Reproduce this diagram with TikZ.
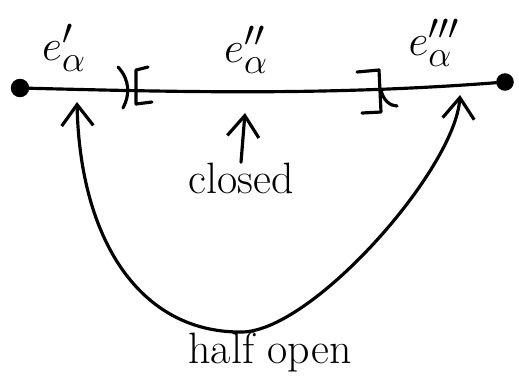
\documentclass[tikz,border=0pt]{standalone}
\usepackage{amsmath,amssymb}
\usepackage{tikz}
\usetikzlibrary{arrows.meta, positioning}

\begin{document}
\begin{tikzpicture}[
    x=0.02cm, y=-0.02cm,
    stroke/.style={draw, line width=1.8pt, line cap=round, line join=round},
    enddot/.style={circle, fill=black, inner sep=0pt, minimum size=10.5pt},
    elabel/.style={inner sep=0pt, font=\fontsize{31}{31}\selectfont},
    wordlabel/.style={inner sep=0pt, font=\fontsize{25}{25}\selectfont},
    line/.style={stroke, -{Straight Barb[length=12pt, width=18pt, line width=1.8pt]}},
    twoway/.style={stroke, {Straight Barb[length=12pt, width=18pt, line width=1.8pt]}-{Straight Barb[length=12pt, width=18pt, line width=1.8pt]}}
]
    \useasboundingbox (0,0) rectangle (519,380);

    % End points and segment
    \node (leftend) [enddot] at (20,88) {};
    \node (rightend) [enddot, minimum size=10pt] at (505,82) {};
    \draw [stroke] (leftend.center) .. controls (180,92) and (330,96) .. (rightend.center);

    % Brackets
    \draw [stroke] (118,67) .. controls (130,80) and (130,95) .. (123,108);
    \draw [stroke] (148,67) -- (136,70) -- (136,104) -- (152,102);
    \draw [stroke] (357,72) -- (379,70) -- (381,112) -- (362,113);
    \draw [stroke] (381,90) .. controls (383,100) and (390,106) .. (397,106);

    % Piece labels
    \node (epieceA) [elabel] at (64,48) {$e'_\alpha$};
    \node (epieceB) [elabel] at (246,50) {$e''_\alpha$};
    \node (epieceC) [elabel] at (434,43) {$e'''_\alpha$};

    % Arrow targets on the segment
    \coordinate (closedtip) at (245,113);
    \coordinate (halftipL) at (77,102);
    \coordinate (halftipR) at (460,95);

    % Closed
    \node (closed) [wordlabel] at (241,178) {closed};
    \draw [line] (closed.north) -- (closedtip);

    % Half open
    \node (halfopen) [wordlabel] at (270,352) {half open};
    \coordinate (halfbottom) at (240,332);
    \draw [twoway] (halftipL) .. controls (80,240) and (140,332) .. (halfbottom)
        .. controls (310,334) and (455,170) .. (halftipR);

\end{tikzpicture}
\end{document}
